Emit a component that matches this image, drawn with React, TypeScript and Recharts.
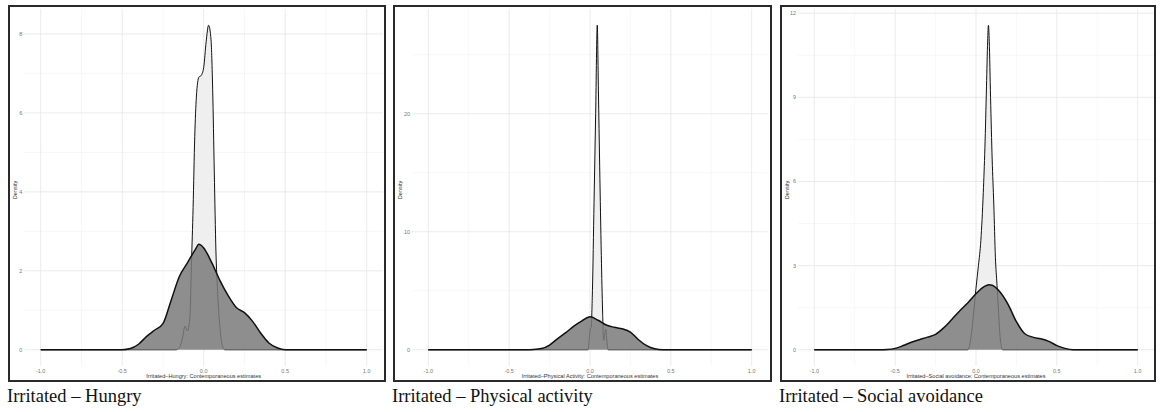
import React from 'react';
import { ComposedChart, Area, XAxis, YAxis, CartesianGrid } from 'recharts';

const xTicks = [-1, -0.5, 0, 0.5, 1];
const xTickLabels = ['-1.0', '-0.5', '0.0', '0.5', '1.0'];
const xMinor = [-0.75, -0.25, 0.25, 0.75];

const hungryTicks = [0, 2, 4, 6, 8];
const hungryMinor = [1, 3, 5, 7];
const physicalTicks = [0, 10, 20];
const physicalMinor = [5, 15, 25];
const socialTicks = [0, 3, 6, 9, 12];
const socialMinor = [1.5, 4.5, 7.5, 10.5];

// Irritated - Hungry
const hungryNarrowX = [-1, -0.17, -0.15, -0.13, -0.115, -0.1, -0.085, -0.075, -0.065, -0.055, -0.045, -0.03, -0.015, 0, 0.015, 0.03, 0.045, 0.055, 0.065, 0.075, 0.085, 0.1, 0.115, 0.13, 1];
const hungryNarrowY = [0, 0, 0.05, 0.3, 0.6, 0.48, 0.8, 2.2, 3.6, 5.4, 6.4, 6.9, 6.95, 7.15, 7.8, 8.22, 7.85, 6.6, 4.5, 2.5, 1.5, 0.55, 0.1, 0, 0];
const hungryWideX = [-1, -0.5, -0.45, -0.4, -0.35, -0.3, -0.25, -0.2, -0.15, -0.1, -0.05, -0.03, 0, 0.05, 0.1, 0.15, 0.2, 0.25, 0.3, 0.35, 0.4, 0.45, 0.5, 1];
const hungryWideY = [0, 0, 0.03, 0.14, 0.34, 0.5, 0.66, 1.25, 1.85, 2.2, 2.55, 2.67, 2.58, 2.2, 1.75, 1.37, 1.07, 0.94, 0.72, 0.42, 0.17, 0.05, 0, 0];

// Irritated - Physical activity
const physicalNarrowX = [-1, -0.012, -0.004, 0.002, 0.007, 0.015, 0.025, 0.035, 0.045, 0.052, 0.06, 0.07, 0.078, 0.084, 0.09, 0.097, 0.104, 0.112, 1];
const physicalNarrowY = [0, 0, 1.0, 1.8, 1.9, 5.0, 12.5, 20, 27.5, 22, 15.5, 8, 3.2, 0.8, 1.2, 1.75, 0.8, 0, 0];
const physicalWideX = [-1, -0.4, -0.35, -0.3, -0.25, -0.2, -0.15, -0.1, -0.05, 0, 0.05, 0.1, 0.15, 0.2, 0.25, 0.3, 0.35, 0.4, 0.45, 1];
const physicalWideY = [0, 0, 0.02, 0.1, 0.4, 0.95, 1.45, 2.0, 2.45, 2.8, 2.5, 2.1, 1.9, 1.78, 1.5, 0.85, 0.35, 0.08, 0, 0];

// Irritated - Social avoidance
const socialNarrowX = [-1, -0.05, -0.03, -0.015, 0, 0.015, 0.03, 0.045, 0.055, 0.065, 0.072, 0.077, 0.082, 0.09, 0.1, 0.11, 0.12, 0.13, 0.14, 0.15, 0.165, 1];
const socialNarrowY = [0, 0, 0.5, 1.3, 2.2, 3.0, 3.9, 5.6, 7.2, 9.4, 11.0, 11.57, 11.0, 9.0, 6.8, 5.2, 3.3, 2.3, 1.3, 0.4, 0, 0];
const socialWideX = [-1, -0.6, -0.55, -0.5, -0.45, -0.4, -0.35, -0.3, -0.25, -0.2, -0.15, -0.1, -0.05, 0, 0.05, 0.08, 0.1, 0.15, 0.2, 0.25, 0.3, 0.35, 0.4, 0.45, 0.5, 0.55, 0.6, 1];
const socialWideY = [0, 0, 0.01, 0.05, 0.15, 0.27, 0.36, 0.45, 0.55, 0.78, 1.08, 1.39, 1.68, 2.0, 2.25, 2.32, 2.3, 2.05, 1.6, 1.0, 0.58, 0.45, 0.39, 0.3, 0.15, 0.05, 0, 0];

const zip = (xs: number[], ys: number[]) => xs.map((x, i) => ({ x, y: ys[i] }));

const sans = '"Liberation Sans", Arial, sans-serif';
const serif = '"Liberation Serif", "Times New Roman", serif';

type PanelProps = {
  boxLeft: number;
  boxWidth: number;
  xLeftPx: number;
  xRightPx: number;
  yTicks: number[];
  yMinor: number[];
  narrowX: number[];
  narrowY: number[];
  wideX: number[];
  wideY: number[];
  axisTitle: string;
  caption: string;
};

function Panel(p: PanelProps) {
  const innerLeft = p.boxLeft + 2;
  const innerWidth = p.boxWidth - 4;
  const span = p.xRightPx - p.xLeftPx;
  const plotL = p.xLeftPx - 0.05 * span;
  const plotR = p.xRightPx + 0.05 * span;
  const yAxisWidth = plotL - innerLeft;
  const marginRight = innerLeft + innerWidth - plotR;
  const peak = Math.max(...p.narrowY, ...p.wideY);
  const narrow = zip(p.narrowX, p.narrowY);
  const wide = zip(p.wideX, p.wideY);
  const plotCenter = (plotL + plotR) / 2 - p.boxLeft - 2;

  return (
    <>
      <div
        style={{
          position: 'absolute',
          left: p.boxLeft,
          top: 5,
          width: p.boxWidth,
          height: 377,
          border: '2px solid #2a2a2a',
          boxSizing: 'border-box',
        }}
      >
        <ComposedChart
          width={innerWidth}
          height={373}
          margin={{ top: 2, right: marginRight, bottom: 0, left: 0 }}
        >
          <CartesianGrid
            horizontalValues={p.yMinor}
            verticalValues={xMinor}
            stroke="#f2f2f2"
            strokeWidth={0.6}
          />
          <CartesianGrid
            horizontalValues={p.yTicks}
            verticalValues={xTicks}
            stroke="#e6e6e6"
            strokeWidth={0.8}
          />
          <XAxis
            type="number"
            dataKey="x"
            domain={[-1.1, 1.1]}
            ticks={xTicks}
            tickFormatter={(v: number) => xTickLabels[xTicks.indexOf(v)] ?? String(v)}
            height={14}
            tickLine={false}
            axisLine={false}
            tickSize={0}
            tickMargin={3}
            tick={{ fontSize: 5.5, fill: '#777', fontFamily: sans }}
            allowDataOverflow
          />
          <YAxis
            type="number"
            domain={[-0.05 * peak, 1.05 * peak]}
            ticks={p.yTicks}
            width={yAxisWidth}
            tickLine={false}
            axisLine={false}
            tickSize={0}
            tickMargin={2}
            tick={{ fontSize: 5.5, fill: '#777', fontFamily: sans }}
            allowDataOverflow
          />
          <Area
            data={narrow}
            dataKey="y"
            type="monotone"
            baseValue={0}
            fill="#efefef"
            fillOpacity={1}
            stroke="#111"
            strokeWidth={1}
            dot={false}
            activeDot={false}
            isAnimationActive={false}
          />
          <Area
            data={wide}
            dataKey="y"
            type="monotone"
            baseValue={0}
            fill="#7a7a7a"
            fillOpacity={0.85}
            stroke="#111"
            strokeWidth={1.5}
            dot={false}
            activeDot={false}
            isAnimationActive={false}
          />
        </ComposedChart>
        <div
          style={{
            position: 'absolute',
            left: plotCenter - 150,
            width: 300,
            top: 366,
            textAlign: 'center',
            fontFamily: sans,
            fontSize: 5.6,
            color: '#333',
            whiteSpace: 'nowrap',
            lineHeight: '7px',
          }}
        >
          {p.axisTitle}
        </div>
        <div
          style={{
            position: 'absolute',
            left: 5 - 20,
            top: 183 - 3,
            width: 40,
            textAlign: 'center',
            fontFamily: sans,
            fontSize: 5.6,
            color: '#333',
            transform: 'rotate(-90deg)',
            lineHeight: '6px',
          }}
        >
          Density
        </div>
      </div>
      <div
        style={{
          position: 'absolute',
          left: p.boxLeft - 1,
          top: 386,
          fontFamily: serif,
          fontSize: 18.5,
          color: '#111',
          whiteSpace: 'nowrap',
          lineHeight: '21px',
        }}
      >
        {p.caption}
      </div>
    </>
  );
}

export default function App() {
  return (
    <div
      style={{
        position: 'absolute',
        left: 0,
        top: 0,
        width: 1160,
        height: 412,
        background: '#fff',
        overflow: 'hidden',
      }}
    >
      <Panel
        boxLeft={8}
        boxWidth={378}
        xLeftPx={40.7}
        xRightPx={366.7}
        yTicks={hungryTicks}
        yMinor={hungryMinor}
        narrowX={hungryNarrowX}
        narrowY={hungryNarrowY}
        wideX={hungryWideX}
        wideY={hungryWideY}
        axisTitle="Irritated–Hungry: Contemporaneous estimates"
        caption="Irritated – Hungry"
      />
      <Panel
        boxLeft={393}
        boxWidth={379}
        xLeftPx={428.3}
        xRightPx={751.7}
        yTicks={physicalTicks}
        yMinor={physicalMinor}
        narrowX={physicalNarrowX}
        narrowY={physicalNarrowY}
        wideX={physicalWideX}
        wideY={physicalWideY}
        axisTitle="Irritated–Physical Activity: Contemporaneous estimates"
        caption="Irritated – Physical activity"
      />
      <Panel
        boxLeft={780}
        boxWidth={376}
        xLeftPx={814.3}
        xRightPx={1137.7}
        yTicks={socialTicks}
        yMinor={socialMinor}
        narrowX={socialNarrowX}
        narrowY={socialNarrowY}
        wideX={socialWideX}
        wideY={socialWideY}
        axisTitle="Irritated–Social avoidance: Contemporaneous estimates"
        caption="Irritated – Social avoidance"
      />
    </div>
  );
}
